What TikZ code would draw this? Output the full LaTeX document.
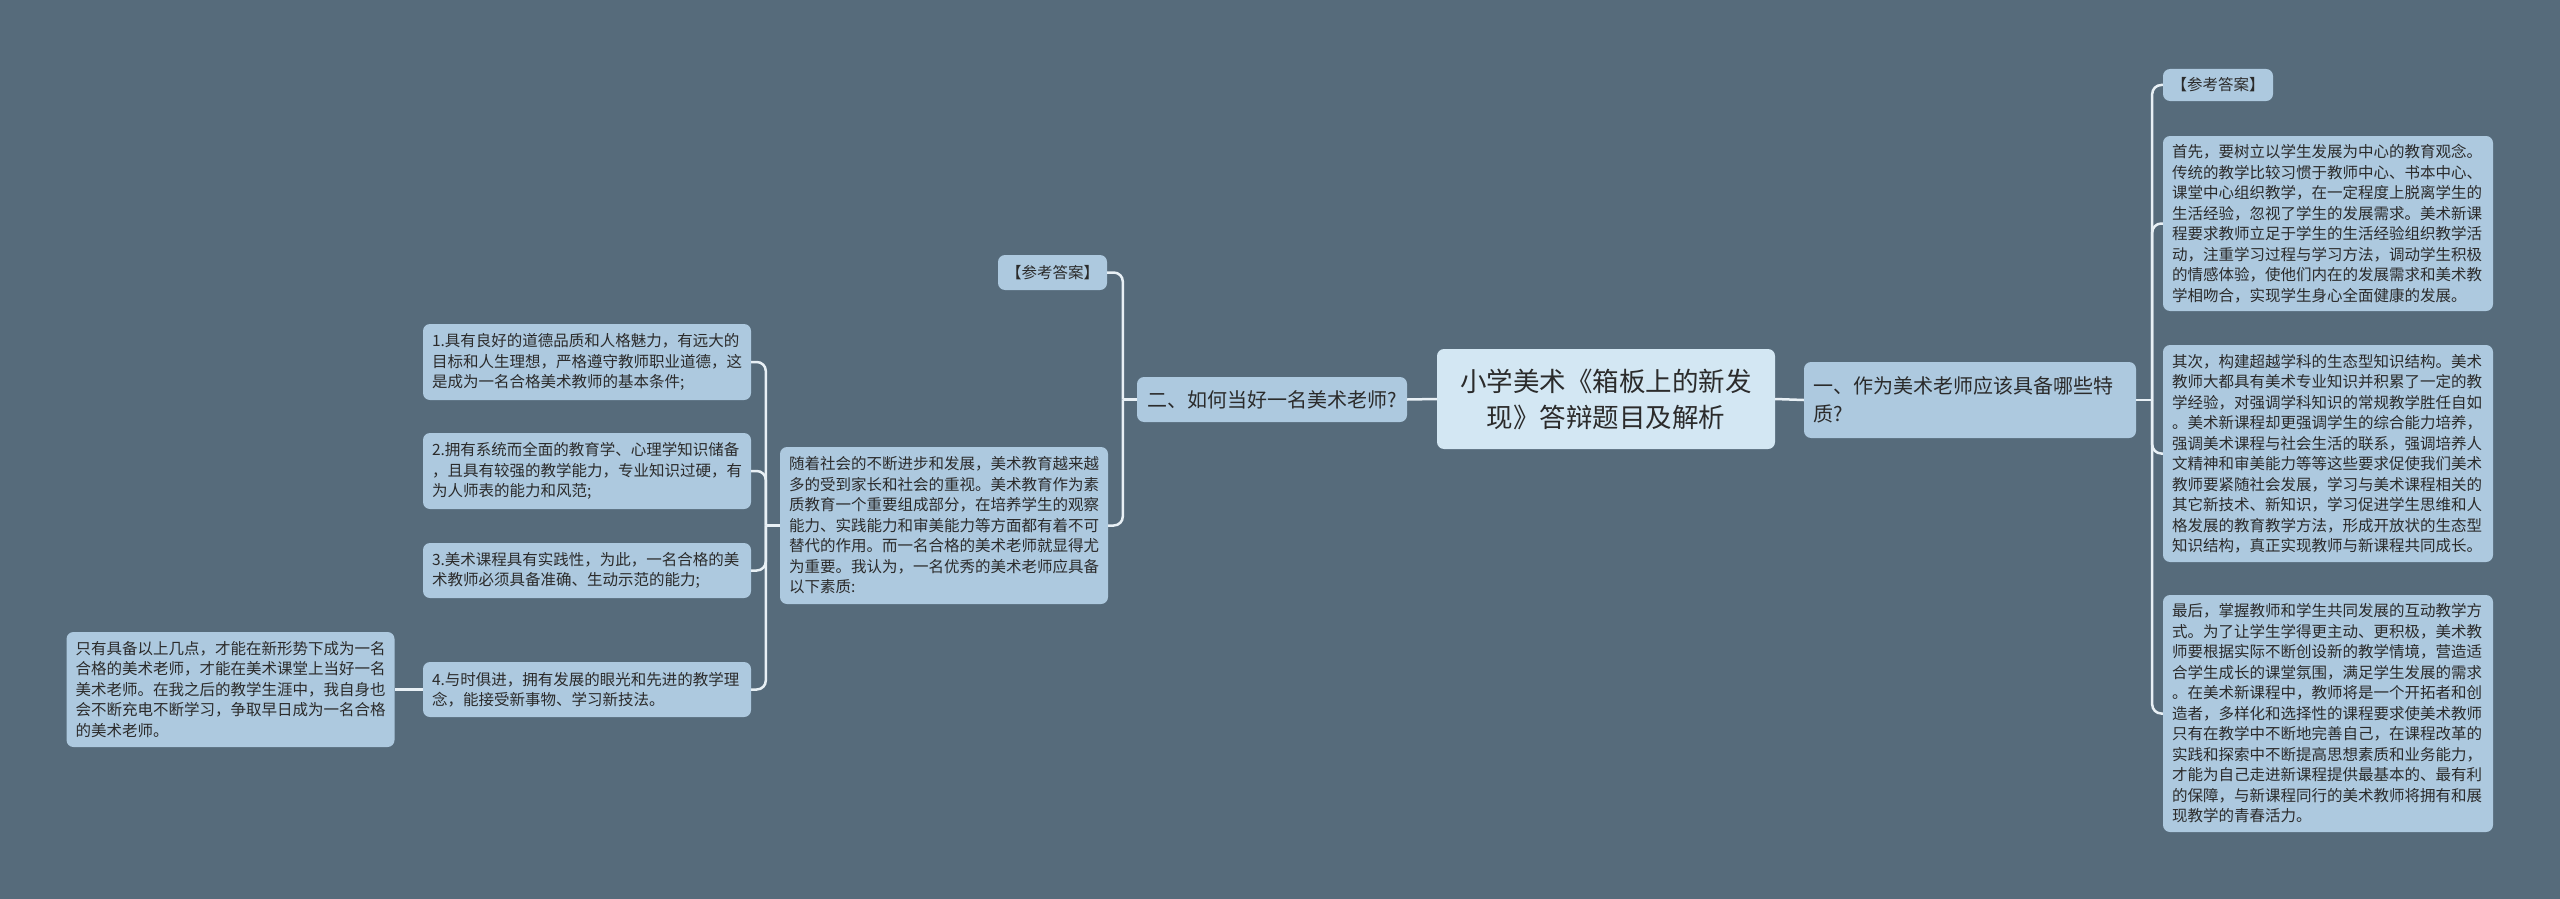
\documentclass[tikz,border=0pt]{standalone}
\usepackage{fontspec}
\newfontfamily\cjk{Noto Sans CJK SC}
\definecolor{bg}{HTML}{566B7B}
\definecolor{nodefill}{HTML}{ADC9DF}
\definecolor{centerfill}{HTML}{D3E7F3}
\definecolor{linkc}{HTML}{E8F0F5}
\definecolor{txt}{HTML}{2B2B2B}
\tikzset{
  box/.style={rectangle, rounded corners=7pt, fill=nodefill, text=txt,
    font=\cjk\fontsize{15.5}{20.5}\selectfont, inner xsep=9pt, inner ysep=0pt,
    align=left, anchor=center},
  parabox/.style={box, minimum width=330pt, text width=312pt},
  itembox/.style={box, minimum width=328pt, text width=310pt},
  ansbox/.style={box, align=center, inner xsep=4pt},
  branchbox/.style={box, font=\cjk\fontsize{20}{28}\selectfont},
  centerbox/.style={box, fill=centerfill, font=\cjk\fontsize{26.5}{36}\selectfont,
    align=center, minimum width=338pt, minimum height=100pt, text width=320pt},
  link/.style={draw=linkc, line width=2.5pt},
  bendlink/.style={link, rounded corners=9pt},
}
\begin{document}
\begin{tikzpicture}[x=1pt,y=-1pt]
\fill[bg] (0,0) rectangle (2560,899);
\useasboundingbox (0,0) rectangle (2560,899);

% center
\node[centerbox] (c) at (1606,399) {小学美术《箱板上的新发\\现》答辩题目及解析};

% right side
\node[branchbox, minimum width=332pt, minimum height=76pt, text width=314pt] (rb) at (1970,400)
  {一、作为美术老师应该具备哪些特\\质?};
\node[ansbox, minimum width=110pt, minimum height=32pt] (rans) at (2218,85) {【参考答案】};
\node[parabox, minimum height=175pt] (p1) at (2328,223.5) {首先，要树立以学生发展为中心的教育观念。\\
传统的教学比较习惯于教师中心、书本中心、\\
课堂中心组织教学，在一定程度上脱离学生的\\
生活经验，忽视了学生的发展需求。美术新课\\
程要求教师立足于学生的生活经验组织教学活\\
动，注重学习过程与学习方法，调动学生积极\\
的情感体验，使他们内在的发展需求和美术教\\
学相吻合，实现学生身心全面健康的发展。};
\node[parabox, minimum height=217pt] (p2) at (2328,453.5) {其次，构建超越学科的生态型知识结构。美术\\
教师大都具有美术专业知识并积累了一定的教\\
学经验，对强调学科知识的常规教学胜任自如\\
。美术新课程却更强调学生的综合能力培养，\\
强调美术课程与社会生活的联系，强调培养人\\
文精神和审美能力等等这些要求促使我们美术\\
教师要紧随社会发展，学习与美术课程相关的\\
其它新技术、新知识，学习促进学生思维和人\\
格发展的教育教学方法，形成开放状的生态型\\
知识结构，真正实现教师与新课程共同成长。};
\node[parabox, minimum height=237pt] (p3) at (2328,713.5) {最后，掌握教师和学生共同发展的互动教学方\\
式。为了让学生学得更主动、更积极，美术教\\
师要根据实际不断创设新的教学情境，营造适\\
合学生成长的课堂氛围，满足学生发展的需求\\
。在美术新课程中，教师将是一个开拓者和创\\
造者，多样化和选择性的课程要求使美术教师\\
只有在教学中不断地完善自己，在课程改革的\\
实践和探索中不断提高思想素质和业务能力，\\
才能为自己走进新课程提供最基本的、最有利\\
的保障，与新课程同行的美术教师将拥有和展\\
现教学的青春活力。};

% left side
\node[branchbox, align=center, minimum width=270pt, minimum height=45pt] (lb) at (1272,399.5)
  {二、如何当好一名美术老师?};
\node[ansbox, minimum width=109pt, minimum height=35pt] (lans) at (1052.5,272.5) {【参考答案】};
\node[itembox, minimum height=157pt] (mid) at (944,525.5) {随着社会的不断进步和发展，美术教育越来越\\
多的受到家长和社会的重视。美术教育作为素\\
质教育一个重要组成部分，在培养学生的观察\\
能力、实践能力和审美能力等方面都有着不可\\
替代的作用。而一名合格的美术老师就显得尤\\
为重要。我认为，一名优秀的美术老师应具备\\
以下素质:};
\node[itembox, minimum height=76pt] (i1) at (587,362) {1.具有良好的道德品质和人格魅力，有远大的\\
目标和人生理想，严格遵守教师职业道德，这\\
是成为一名合格美术教师的基本条件;};
\node[itembox, minimum height=76pt] (i2) at (587,471) {2.拥有系统而全面的教育学、心理学知识储备\\
，且具有较强的教学能力，专业知识过硬，有\\
为人师表的能力和风范;};
\node[itembox, minimum height=55pt] (i3) at (587,570.5) {3.美术课程具有实践性，为此，一名合格的美\\
术教师必须具备准确、生动示范的能力;};
\node[itembox, minimum height=55pt] (i4) at (587,689.5) {4.与时俱进，拥有发展的眼光和先进的教学理\\
念，能接受新事物、学习新技法。};
\node[itembox, minimum width=327pt, minimum height=115pt] (fl) at (230.5,689.5) {只有具备以上几点，才能在新形势下成为一名\\
合格的美术老师，才能在美术课堂上当好一名\\
美术老师。在我之后的教学生涯中，我自身也\\
会不断充电不断学习，争取早日成为一名合格\\
的美术老师。};

% connectors
\draw[link] (c.east) -- (rb.west);
\draw[link] (rb.east) -- ++(16,0);
\draw[bendlink] (rb.east) ++(16,0) |- (rans.west);
\draw[bendlink] (rb.east) ++(16,0) |- (p1.west);
\draw[bendlink] (rb.east) ++(16,0) |- (p2.west);
\draw[bendlink] (rb.east) ++(16,0) |- (p3.west);
\draw[link] (c.west) -- (lb.east);
\draw[link] (lb.west) -- ++(-14,0);
\draw[bendlink] (lb.west) ++(-14,0) |- (lans.east);
\draw[bendlink] (lb.west) ++(-14,0) |- (mid.east);
\draw[link] (mid.west) -- ++(-14,0);
\draw[bendlink] (mid.west) ++(-14,0) |- (i1.east);
\draw[bendlink] (mid.west) ++(-14,0) |- (i2.east);
\draw[bendlink] (mid.west) ++(-14,0) |- (i3.east);
\draw[bendlink] (mid.west) ++(-14,0) |- (i4.east);
\draw[link] (i4.west) -- (fl.east);
\end{tikzpicture}
\end{document}
